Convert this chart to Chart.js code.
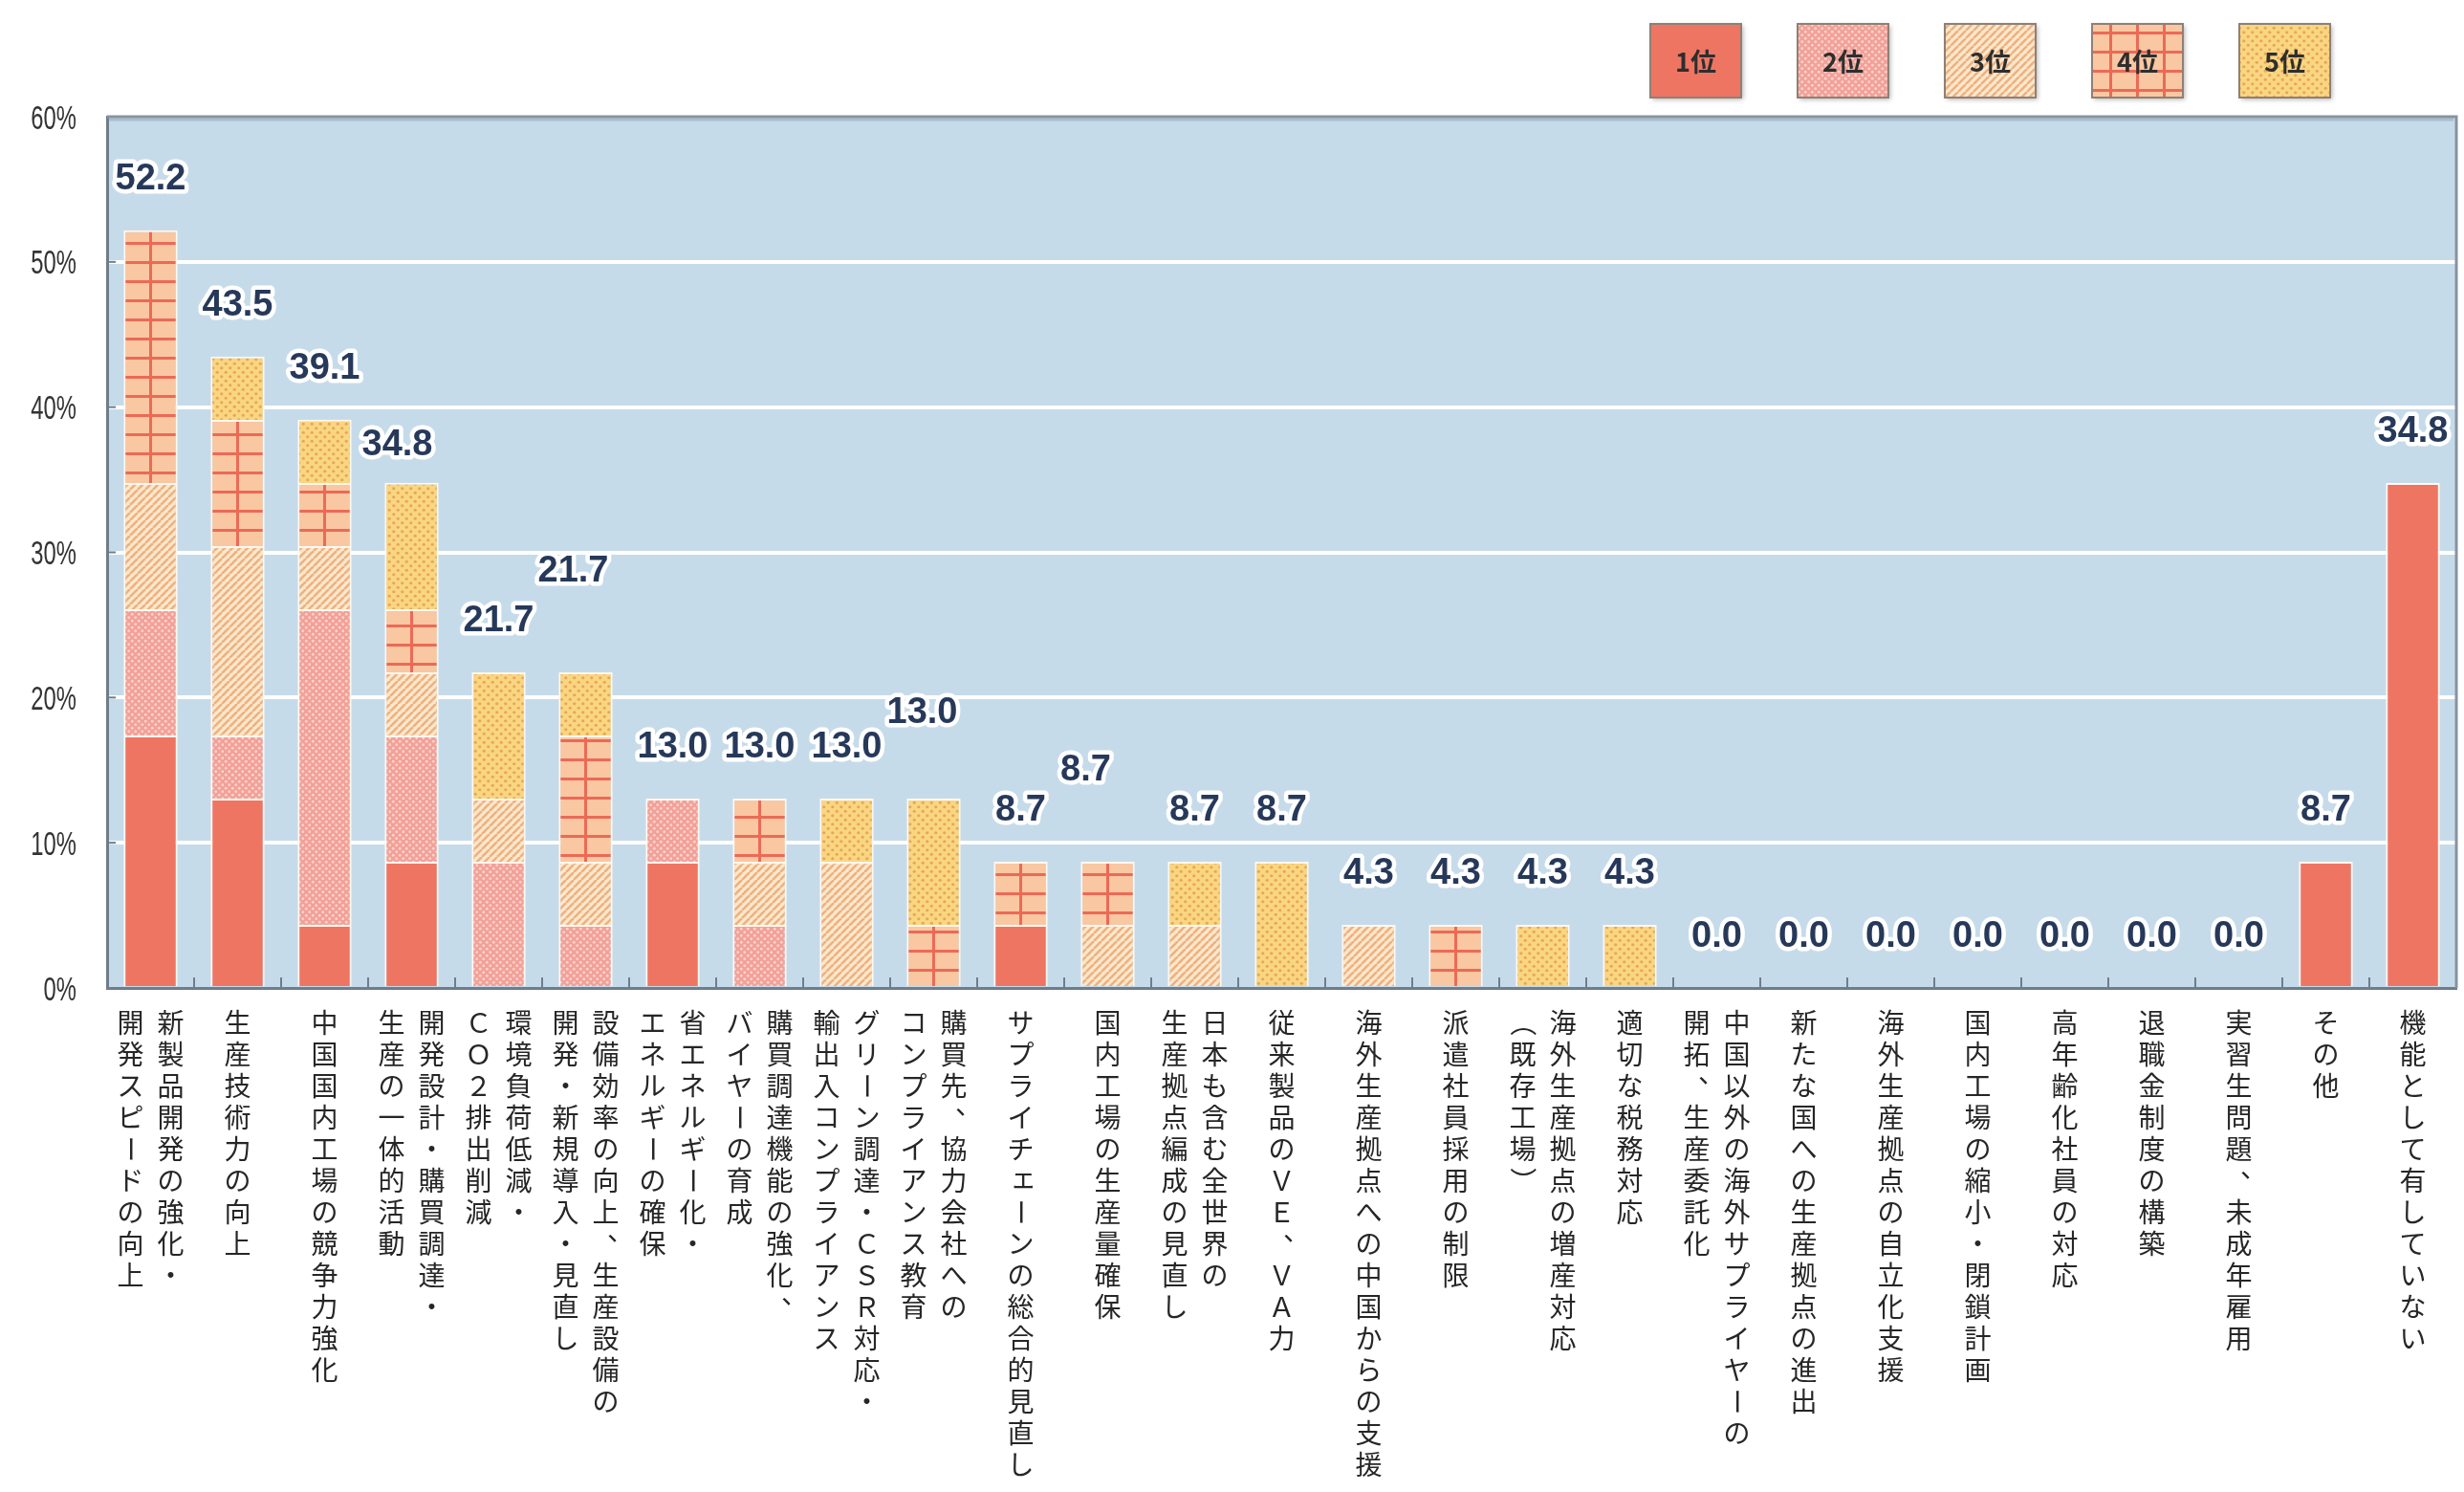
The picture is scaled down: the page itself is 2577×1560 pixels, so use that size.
<!DOCTYPE html>
<html lang="ja">
<head>
<meta charset="utf-8">
<title>順位別 回答割合</title>
<script src="https://cdn.jsdelivr.net/npm/chart.js@4.4.1/dist/chart.umd.min.js"></script>
<style>
    html, body { margin: 0; padding: 0; background: #fff; }
    #wrap { width: 2577px; height: 1560px; }
</style>
</head>
<body>
<div id="wrap"><canvas id="rankChart" width="2577" height="1560"></canvas></div>
<script>
// 項目名（縦書き、右の列から順に）
var categories = [
    ['新製品開発の強化・', '開発スピードの向上'],
    ['生産技術力の向上'],
    ['中国国内工場の競争力強化'],
    ['開発設計・購買調達・', '生産の一体的活動'],
    ['環境負荷低減・', 'ＣＯ２排出削減'],
    ['設備効率の向上、生産設備の', '開発・新規導入・見直し'],
    ['省エネルギー化・', 'エネルギーの確保'],
    ['購買調達機能の強化、', 'バイヤーの育成'],
    ['グリーン調達・ＣＳＲ対応・', '輸出入コンプライアンス'],
    ['購買先、協力会社への', 'コンプライアンス教育'],
    ['サプライチェーンの総合的見直し'],
    ['国内工場の生産量確保'],
    ['日本も含む全世界の', '生産拠点編成の見直し'],
    ['従来製品のＶＥ、ＶＡ力'],
    ['海外生産拠点への中国からの支援'],
    ['派遣社員採用の制限'],
    ['海外生産拠点の増産対応', '（既存工場）'],
    ['適切な税務対応'],
    ['中国以外の海外サプライヤーの', '開拓、生産委託化'],
    ['新たな国への生産拠点の進出'],
    ['海外生産拠点の自立化支援'],
    ['国内工場の縮小・閉鎖計画'],
    ['高年齢化社員の対応'],
    ['退職金制度の構築'],
    ['実習生問題、未成年雇用'],
    ['その他'],
    ['機能として有していない']
];

// 順位ごとの回答割合（%）
var rank1 = [17.391, 13.043, 4.348, 8.696, 0, 0, 8.696, 0, 0, 0, 4.348, 0, 0, 0, 0, 0, 0, 0, 0, 0, 0, 0, 0, 0, 0, 8.696, 34.783];
var rank2 = [8.696, 4.348, 21.739, 8.696, 8.696, 4.348, 4.348, 4.348, 0, 0, 0, 0, 0, 0, 0, 0, 0, 0, 0, 0, 0, 0, 0, 0, 0, 0, 0];
var rank3 = [8.696, 13.043, 4.348, 4.348, 4.348, 4.348, 0, 4.348, 8.696, 0, 0, 4.348, 4.348, 0, 4.348, 0, 0, 0, 0, 0, 0, 0, 0, 0, 0, 0, 0];
var rank4 = [17.391, 8.696, 4.348, 4.348, 0, 8.696, 0, 4.348, 0, 4.348, 4.348, 4.348, 0, 0, 0, 4.348, 0, 0, 0, 0, 0, 0, 0, 0, 0, 0, 0];
var rank5 = [0, 4.348, 4.348, 8.696, 8.696, 4.348, 0, 0, 4.348, 8.696, 0, 0, 4.348, 8.696, 0, 0, 4.348, 4.348, 0, 0, 0, 0, 0, 0, 0, 0, 0];

var rankNames = ['1位', '2位', '3位', '4位', '5位'];
var yTicks = [0, 10, 20, 30, 40, 50, 60];

// 合計ラベルの位置ずらし [dx, 棒の上からの高さ]
var labelNudge = { 3: [-15, 39], 5: [-13, 105], 9: [-12, 89], 11: [-23, 95] };
var LABEL_LIFT = 53;

var FRAME = '#6f7d8a';
var PLOT_BG = '#c6dbea';

// ---- 模様 ----
function makeTile(w, h, paint) {
    var c = document.createElement('canvas');
    c.width = w; c.height = h;
    paint(c.getContext('2d'), w, h);
    return c;
}

function dots(base, dot, size, r) {
    return makeTile(size, size, function (g, w, h) {
        g.fillStyle = base; g.fillRect(0, 0, w, h);
        g.fillStyle = dot;
        [[w / 4, h / 4], [w * 3 / 4, h * 3 / 4]].forEach(function (p) {
            g.beginPath(); g.arc(p[0], p[1], r, 0, Math.PI * 2); g.fill();
        });
    });
}

var solidTile = makeTile(4, 4, function (g, w, h) { g.fillStyle = '#ef7563'; g.fillRect(0, 0, w, h); });
var pinkTile = dots('#f2a098', '#fad3ca', 7, 1.4);
var stripeTile = makeTile(8, 8, function (g, w, h) {
    g.fillStyle = '#fce8cd'; g.fillRect(0, 0, w, h);
    g.strokeStyle = '#eeb17f'; g.lineWidth = 2.6;
    [-8, 0, 8].forEach(function (o) {
        g.beginPath(); g.moveTo(o, h); g.lineTo(o + w, 0); g.stroke();
    });
});
var gridTile = makeTile(28, 20, function (g, w, h) {
    g.fillStyle = '#f9c7a2'; g.fillRect(0, 0, w, h);
    g.fillStyle = '#eb6a56';
    g.fillRect(0, 0, 3, h);
    g.fillRect(0, 0, w, 3);
});
var yellowTile = dots('#f9d680', '#e9a45b', 9, 1.6);

var ctx0 = document.getElementById('rankChart').getContext('2d');
var tiles = [solidTile, pinkTile, stripeTile, gridTile, yellowTile];
var fills = tiles.map(function (t) { return ctx0.createPattern(t, 'repeat'); });
fills[0] = '#ef7563';

// 4位の格子は棒の中心線にそろえる
function gridFill(c) {
    var ch = c.chart;
    var xs = ch.scales && ch.scales.x, ys = ch.scales && ch.scales.y;
    if (!xs || !ys || c.dataIndex == null) return fills[3];
    var p = ch.ctx.createPattern(gridTile, 'repeat');
    p.setTransform(new DOMMatrix([1, 0, 0, 1, xs.getPixelForValue(c.dataIndex) - 1.5, ys.getPixelForValue(0)]));
    return p;
}

// ---- 縦書き ----
var FS = 28, PITCH = 33, COL_GAP = 42, LABEL_TOP = 1053;
var ROTATE = 'ー－（）〜';
var SMALL = 'ァィゥェォャュョッ';

function drawVertical(ctx, text, x, top) {
    var chars = Array.from(text);
    for (var k = 0; k < chars.length; k++) {
        var ch = chars[k];
        var cy = top + k * PITCH + PITCH / 2;
        if (ROTATE.indexOf(ch) >= 0) {
            ctx.save();
            ctx.translate(x, cy);
            ctx.rotate(Math.PI / 2);
            ctx.fillText(ch, 0, 0);
            ctx.restore();
        } else if (ch === '、' || ch === '。') {
            ctx.fillText(ch, x + FS * 0.55, cy - FS * 0.5);
        } else if (SMALL.indexOf(ch) >= 0) {
            ctx.fillText(ch, x + FS * 0.1, cy - FS * 0.1);
        } else {
            ctx.fillText(ch, x, cy);
        }
    }
}

function haloText(ctx, txt, x, y, w) {
    ctx.lineJoin = 'round';
    ctx.lineWidth = w;
    ctx.strokeStyle = '#ffffff';
    ctx.strokeText(txt, x, y);
    ctx.fillText(txt, x, y);
}

var decor = {
    id: 'decor',
    beforeDraw: function (chart) {
        var a = chart.chartArea, ctx = chart.ctx;
        ctx.save();
        ctx.fillStyle = PLOT_BG;
        ctx.fillRect(a.left, a.top, a.right - a.left, a.bottom - a.top);
        ctx.restore();
    },
    afterDatasetsDraw: function (chart) {
        var a = chart.chartArea, ctx = chart.ctx;
        var xs = chart.scales.x, ys = chart.scales.y;
        var half = (xs.getPixelForValue(1) - xs.getPixelForValue(0)) / 2;
        ctx.save();

        // 上と右の枠
        ctx.strokeStyle = '#8793a0';
        ctx.lineWidth = 3;
        ctx.beginPath();
        ctx.moveTo(a.left, a.top); ctx.lineTo(a.right, a.top); ctx.lineTo(a.right, a.bottom);
        ctx.stroke();
        ctx.strokeStyle = 'rgba(120,135,150,0.35)';
        ctx.lineWidth = 3;
        ctx.beginPath(); ctx.moveTo(a.left, a.top + 3); ctx.lineTo(a.right - 3, a.top + 3); ctx.stroke();

        // 目盛り
        ctx.strokeStyle = FRAME;
        ctx.lineWidth = 2;
        for (var i = 1; i < categories.length; i++) {
            var bx = xs.getPixelForValue(i) - half;
            ctx.beginPath(); ctx.moveTo(bx, a.bottom); ctx.lineTo(bx, a.bottom - 11); ctx.stroke();
        }
        yTicks.forEach(function (v) {
            if (v === 0 || v === 60) return;
            var y = ys.getPixelForValue(v);
            ctx.beginPath(); ctx.moveTo(a.left, y); ctx.lineTo(a.left + 9, y); ctx.stroke();
        });

        // 合計値
        ctx.font = 'bold 38px "Liberation Sans", Arial, sans-serif';
        ctx.fillStyle = '#26395a';
        ctx.textAlign = 'center';
        ctx.textBaseline = 'middle';
        for (var j = 0; j < categories.length; j++) {
            var total = chart.data.datasets.reduce(function (s, d) { return s + d.data[j]; }, 0);
            var nudge = labelNudge[j] || [0, LABEL_LIFT];
            var lx = xs.getPixelForValue(j) + nudge[0];
            var ly = ys.getPixelForValue(total) - nudge[1];
            haloText(ctx, total.toFixed(1), lx, ly, 9);
        }
        ctx.restore();
    },
    afterDraw: function (chart) {
        var ctx = chart.ctx, xs = chart.scales.x, ys = chart.scales.y;
        ctx.save();

        // 縦軸ラベル
        ctx.fillStyle = '#333333';
        ctx.font = '35px "Liberation Sans", Arial, sans-serif';
        ctx.textAlign = 'right';
        ctx.textBaseline = 'middle';
        yTicks.forEach(function (v) {
            ctx.save();
            ctx.translate(80, ys.getPixelForValue(v) + 3);
            ctx.scale(0.68, 1);
            ctx.fillText(v + '%', 0, 0);
            ctx.restore();
        });

        // 項目名
        ctx.fillStyle = '#262626';
        ctx.font = FS + 'px "Noto Sans CJK JP", sans-serif';
        ctx.textAlign = 'center';
        ctx.textBaseline = 'middle';
        categories.forEach(function (cols, i) {
            var cx = xs.getPixelForValue(i);
            var n = cols.length;
            cols.forEach(function (line, c) {
                drawVertical(ctx, line, cx + ((n - 1) / 2 - c) * COL_GAP, LABEL_TOP);
            });
        });

        // 凡例
        var bw = 95, bh = 77, top = 25;
        rankNames.forEach(function (name, r) {
            var left = 1726 + r * 154;
            var fill = fills[r];
            if (r === 3) {
                fill = ctx.createPattern(gridTile, 'repeat');
                fill.setTransform(new DOMMatrix([1, 0, 0, 1, left + bw / 2 - 1.5, top + 8]));
            }
            ctx.save();
            ctx.shadowColor = 'rgba(0,0,0,0.3)';
            ctx.shadowBlur = 5;
            ctx.shadowOffsetX = 2;
            ctx.shadowOffsetY = 2;
            ctx.fillStyle = fill;
            ctx.fillRect(left, top, bw, bh);
            ctx.restore();
            ctx.strokeStyle = '#8f8075';
            ctx.lineWidth = 2;
            ctx.strokeRect(left, top, bw, bh);
            ctx.fillStyle = '#2e2e2e';
            ctx.font = 'bold 27px "Noto Sans CJK JP", sans-serif';
            ctx.textAlign = 'center';
            ctx.textBaseline = 'middle';
            ctx.fillText(name, left + bw / 2, top + bh / 2 + 1);
        });
        ctx.restore();
    }
};

var series = [rank1, rank2, rank3, rank4, rank5];

new Chart(document.getElementById('rankChart'), {
    type: 'bar',
    data: {
        labels: categories.map(function (c) { return c.join(''); }),
        datasets: rankNames.map(function (name, r) {
            return {
                label: name,
                data: series[r],
                backgroundColor: r === 3 ? gridFill : fills[r],
                borderColor: '#fff8ef',
                borderWidth: function (c) { return c.raw ? 2 : 0; },
                barPercentage: 0.62,
                categoryPercentage: 1
            };
        })
    },
    options: {
        responsive: false,
        devicePixelRatio: 1,
        animation: false,
        layout: { padding: { top: 122, right: 8, left: 0, bottom: 0 } },
        plugins: {
            legend: { display: false },
            tooltip: { enabled: false }
        },
        scales: {
            x: {
                stacked: true,
                grid: { display: false },
                ticks: { display: false },
                border: { color: FRAME, width: 3 },
                afterFit: function (s) { s.height = 527; }
            },
            y: {
                stacked: true,
                min: 0,
                max: 60,
                ticks: { display: false, stepSize: 10 },
                grid: {
                    color: function (c) {
                        var v = c.tick && c.tick.value;
                        return (v === 0 || v === 60) ? 'rgba(0,0,0,0)' : '#ffffff';
                    },
                    lineWidth: 4,
                    drawTicks: false
                },
                border: { color: FRAME, width: 3 },
                afterFit: function (s) { s.width = 112; }
            }
        }
    },
    plugins: [decor]
});
</script>
</body>
</html>
